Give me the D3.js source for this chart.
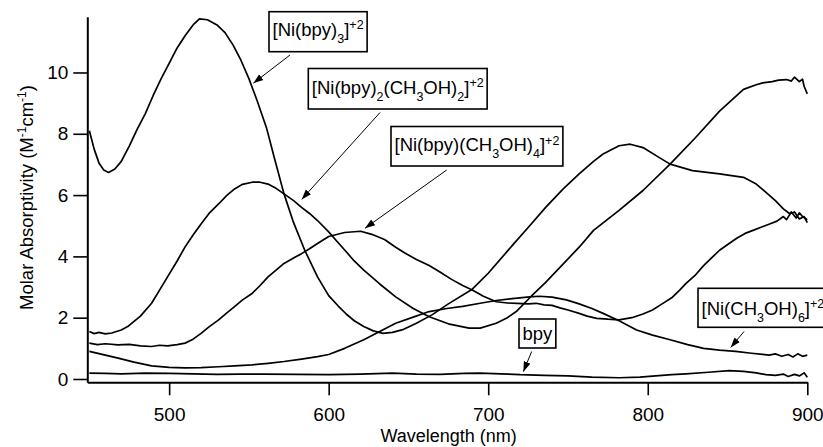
<!DOCTYPE html>
<html>
<head>
<meta charset="utf-8">
<script src="https://cdn.jsdelivr.net/npm/d3@7"></script>
<style>
  body { margin: 0; background: #fff; }
  svg { display: block; }
  text { font-family: "Liberation Sans", Arial, Helvetica, sans-serif; fill: #000; }
</style>
</head>
<body>
<svg id="svg" width="823" height="447"></svg>
<script>
// spectra: [wavelength (nm), molar absorptivity]
const niBpy3 = [
  [450, 8.1], [453, 7.5], [456, 7.05], [459, 6.82], [462, 6.74], [466, 6.85], [470, 7.1],
  [475, 7.6], [480, 8.15], [485, 8.65], [490, 9.25], [495, 9.8], [500, 10.3], [505, 10.8],
  [510, 11.2], [515, 11.55], [519, 11.75], [524, 11.72], [530, 11.55], [535, 11.3],
  [540, 10.9], [545, 10.4], [550, 9.8], [555, 9.1], [561, 8.2], [566, 7.2], [572, 6.04],
  [578, 5.1], [585, 4.2], [593, 3.33], [600, 2.72], [606, 2.38], [611, 2.12], [616, 1.9],
  [622, 1.71], [628, 1.57], [634, 1.49], [640, 1.52], [647, 1.62], [655, 1.82], [665, 2.1],
  [675, 2.45], [690, 2.93], [700, 3.45], [715, 4.35], [726, 5.0], [736, 5.6], [747, 6.2],
  [757, 6.69], [766, 7.1], [772, 7.34], [782, 7.61], [789, 7.66], [797, 7.55], [807, 7.23],
  [814, 7.01], [828, 6.8], [845, 6.69], [860, 6.58], [868, 6.36], [875, 6.05], [880, 5.82],
  [885, 5.55], [889, 5.39], [892, 5.45], [895, 5.22], [898, 5.3], [900, 5.1]
];

const niBpy2 = [
  [450, 1.55], [453, 1.48], [456, 1.52], [460, 1.47], [464, 1.5], [470, 1.6], [474, 1.71],
  [482, 2.05], [489, 2.47], [494, 2.9], [499, 3.33], [505, 3.85], [510, 4.31], [515, 4.7],
  [520, 5.06], [525, 5.4], [531, 5.71], [536, 5.98], [541, 6.2], [546, 6.35], [552, 6.42],
  [557, 6.42], [562, 6.36], [567, 6.22], [572, 6.04], [578, 5.82], [583, 5.6], [588, 5.4],
  [593, 5.17], [600, 4.8], [605, 4.5], [611, 4.15], [616, 3.85], [622, 3.55], [632, 3.1],
  [642, 2.68], [653, 2.3], [663, 2.03], [675, 1.8], [688, 1.66], [695, 1.66], [705, 1.82],
  [712, 2.0], [718, 2.22], [727, 2.7], [736, 3.15], [746, 3.7], [757, 4.3], [766, 4.85],
  [782, 5.5], [797, 6.15], [814, 7.01], [830, 7.88], [845, 8.74], [860, 9.45], [868, 9.6],
  [872, 9.66], [878, 9.7], [882, 9.75], [887, 9.77], [890, 9.72], [892, 9.85], [895, 9.7],
  [897, 9.78], [898, 9.55], [900, 9.3]
];

const niBpyMeoh4 = [
  [450, 1.17], [455, 1.12], [460, 1.15], [468, 1.11], [475, 1.13], [482, 1.08], [489, 1.06],
  [494, 1.1], [499, 1.08], [505, 1.12], [510, 1.17], [515, 1.3], [520, 1.49], [525, 1.7],
  [531, 1.93], [536, 2.15], [541, 2.36], [546, 2.58], [552, 2.79], [557, 3.05], [562, 3.33],
  [567, 3.55], [572, 3.77], [578, 3.95], [583, 4.09], [588, 4.25], [593, 4.42], [600, 4.65],
  [610, 4.78], [620, 4.82], [627, 4.72], [635, 4.55], [642, 4.3], [648, 4.1], [655, 3.9],
  [663, 3.7], [670, 3.48], [677, 3.25], [684, 3.05], [690, 2.9], [697, 2.7], [705, 2.52],
  [712, 2.48], [718, 2.47], [725, 2.45], [730, 2.47], [735, 2.42], [740, 2.4], [745, 2.32],
  [750, 2.25], [757, 2.14], [762, 2.05], [768, 1.98], [775, 1.95], [782, 1.93], [790, 2.0],
  [797, 2.12], [803, 2.25], [809, 2.45], [815, 2.65], [820, 2.9], [824, 3.12], [830, 3.4],
  [835, 3.7], [840, 3.95], [845, 4.2], [851, 4.42], [856, 4.6], [861, 4.75], [866, 4.85],
  [871, 4.95], [876, 5.05], [881, 5.15], [885, 5.3], [887, 5.2], [890, 5.45], [893, 5.25],
  [895, 5.42], [897, 5.3], [900, 5.2]
];

const niMeoh6 = [
  [450, 0.9], [460, 0.78], [468, 0.68], [478, 0.55], [489, 0.43], [500, 0.38], [510, 0.36],
  [520, 0.37], [531, 0.4], [541, 0.43], [552, 0.46], [562, 0.51], [572, 0.57], [583, 0.65],
  [593, 0.73], [600, 0.8], [610, 1.0], [622, 1.28], [632, 1.55], [642, 1.82], [653, 2.02],
  [663, 2.2], [674, 2.3], [684, 2.37], [695, 2.47], [705, 2.56], [715, 2.62], [726, 2.68],
  [732, 2.7], [740, 2.67], [749, 2.58], [757, 2.45], [765, 2.3], [772, 2.14], [782, 1.9],
  [793, 1.6], [803, 1.43], [814, 1.28], [825, 1.12], [835, 1.0], [845, 0.94], [855, 0.9],
  [865, 0.84], [872, 0.8], [876, 0.78], [880, 0.82], [884, 0.74], [888, 0.8], [891, 0.72],
  [894, 0.82], [897, 0.74], [900, 0.78]
];

const bpy = [
  [450, 0.19], [460, 0.18], [470, 0.17], [485, 0.19], [500, 0.18], [515, 0.17], [530, 0.15],
  [545, 0.16], [560, 0.16], [580, 0.15], [600, 0.14], [620, 0.16], [640, 0.19], [655, 0.16],
  [670, 0.15], [685, 0.18], [695, 0.19], [708, 0.17], [720, 0.14], [735, 0.12], [750, 0.1],
  [765, 0.06], [782, 0.04], [795, 0.06], [805, 0.1], [815, 0.14], [824, 0.17], [838, 0.22],
  [851, 0.27], [860, 0.25], [868, 0.2], [874, 0.14], [880, 0.12], [885, 0.16], [888, 0.08],
  [892, 0.15], [895, 0.1], [898, 0.2], [900, 0.06]
];

const spectra = [niBpy3, niBpy2, niBpyMeoh4, niMeoh6, bpy];

const xTicks = [500, 600, 700, 800, 900];
const yTicks = [0, 2, 4, 6, 8, 10];

// label boxes: text parts (main/sub/sup), box left/top/height, text baseline, arrow start, arrow tip in data units
const labels = [
  { parts: [["[Ni(bpy)"], ["3", "sub"], ["]"], ["+2", "sup"]],
    left: 269, top: 11.7, h: 40, base: 35.8, from: [290, 55], tip: [552.8, 9.65] },
  { parts: [["[Ni(bpy)"], ["2", "sub"], ["(CH"], ["3", "sub"], ["OH)"], ["2", "sub"], ["]"], ["+2", "sup"]],
    left: 308.3, top: 68.5, h: 40.5, base: 93.5, from: [380, 112.5], tip: [583.1, 5.86] },
  { parts: [["[Ni(bpy)(CH"], ["3", "sub"], ["OH)"], ["4", "sub"], ["]"], ["+2", "sup"]],
    left: 391, top: 126.5, h: 39.5, base: 151, from: [446.7, 170], tip: [622.8, 4.92] },
  { parts: [["bpy"]],
    left: 519, top: 319, h: 29, base: 340, from: [531.7, 351.5], tip: [722, 0.24] },
  { parts: [["[Ni(CH"], ["3", "sub"], ["OH)"], ["6", "sub"], ["]"], ["+2", "sup"]],
    left: 698, top: 288.3, h: 39, base: 314.5, from: [744, 331.5], tip: [852, 1.03] }
];

const svg = d3.select("#svg");
const margin = {top: 16.7, right: 15.7, bottom: 64.7, left: 87.3};
const width = +svg.attr("width");
const height = +svg.attr("height");

const x = d3.scaleLinear()
  .domain([448.7, 900])
  .range([margin.left, width - margin.right]);
const y = d3.scaleLinear()
  .domain([-0.108, 11.82])
  .range([height - margin.bottom, margin.top]);

const line = d3.line()
  .x(d => x(d[0]))
  .y(d => y(d[1]));

svg.append("g")
  .selectAll("path")
  .data(spectra)
  .enter()
  .append("path")
  .attr("fill", "none")
  .attr("stroke", "#000")
  .attr("stroke-width", 1.7)
  .attr("stroke-linejoin", "round")
  .attr("d", line);

// axes
const xAxis = g => g
  .attr("transform", `translate(0,${height - margin.bottom})`)
  .call(d3.axisBottom(x).tickValues(xTicks).tickSize(13).tickSizeOuter(0).tickPadding(12));
const yAxis = g => g
  .attr("transform", `translate(${margin.left},0)`)
  .call(d3.axisLeft(y).tickValues(yTicks).tickSize(14).tickSizeOuter(0).tickPadding(5));

const gx = svg.append("g").call(xAxis);
const gy = svg.append("g").call(yAxis);
[gx, gy].forEach(g => {
  g.select(".domain").attr("stroke", "#000").attr("stroke-width", 2);
  g.selectAll(".tick line").attr("stroke", "#000").attr("stroke-width", 1.6);
  g.selectAll(".tick text")
    .style("font-family", '"Liberation Sans", Arial, sans-serif')
    .style("font-size", "19px")
    .attr("fill", "#000");
});

svg.append("text")
  .attr("x", x(675.2))
  .attr("y", 442)
  .attr("text-anchor", "middle")
  .style("font-size", "18px")
  .text("Wavelength (nm)");

const yl = svg.append("text")
  .attr("transform", "translate(33,197.5) rotate(-90)")
  .attr("text-anchor", "middle")
  .style("font-size", "18.5px");
yl.append("tspan").text("Molar Absorptivity (M");
yl.append("tspan").attr("dy", -7).style("font-size", "12px").text("-1");
yl.append("tspan").attr("dy", 7).text("cm");
yl.append("tspan").attr("dy", -7).style("font-size", "12px").text("-1");
yl.append("tspan").attr("dy", 7).text(")");

// arrowhead
svg.append("defs").append("marker")
  .attr("id", "head")
  .attr("viewBox", "0 0 10 10")
  .attr("refX", 10).attr("refY", 5)
  .attr("markerWidth", 10).attr("markerHeight", 10)
  .attr("markerUnits", "userSpaceOnUse")
  .attr("orient", "auto")
  .append("path")
  .attr("d", "M0,1.5L10,5L0,8.5Z")
  .attr("fill", "#000");

labels.forEach(l => {
  const g = svg.append("g");
  const rect = g.append("rect")
    .attr("x", l.left).attr("y", l.top)
    .attr("height", l.h)
    .attr("fill", "#fff")
    .attr("stroke", "#000")
    .attr("stroke-width", 1.6);
  const t = g.append("text")
    .attr("x", l.left + 3.5)
    .attr("y", l.base)
    .style("font-size", "18.5px");
  let shift = 0;
  l.parts.forEach(p => {
    const ts = t.append("tspan").text(p[0]);
    let want = 0;
    if (p[1] === "sub") want = 7;
    if (p[1] === "sup") want = -6.5;
    if (p[1]) ts.style("font-size", "12.5px");
    ts.attr("dy", want - shift);
    shift = want;
  });
  const w = t.node().getComputedTextLength();
  rect.attr("width", w + 7);

  g.append("line")
    .attr("x1", l.from[0]).attr("y1", l.from[1])
    .attr("x2", x(l.tip[0])).attr("y2", y(l.tip[1]))
    .attr("stroke", "#000")
    .attr("stroke-width", 1)
    .attr("marker-end", "url(#head)");
});
</script>
</body>
</html>
